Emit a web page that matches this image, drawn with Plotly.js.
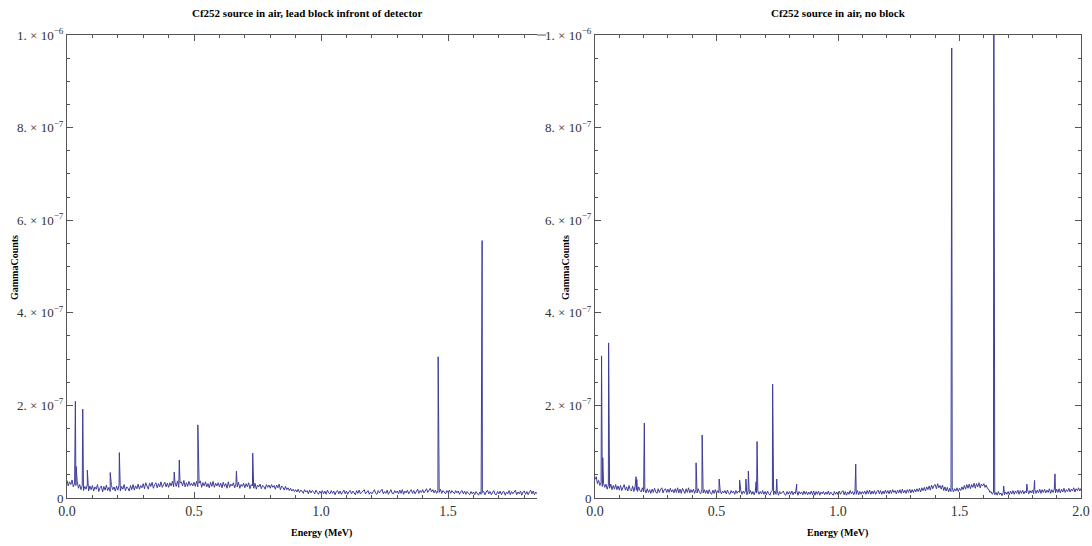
<!DOCTYPE html>
<html>
<head>
<meta charset="utf-8">
<script src="https://cdn.plot.ly/plotly-3.0.1.min.js"></script>
<style>
html,body{margin:0;padding:0;background:#fff;}
#chart{width:1092px;height:546px;}
</style>
</head>
<body>
<div id="chart"></div>
<script>
// ---------- DATA (counts in units of 1e-8) ----------
const channelStep = 0.005; // MeV per baseline sample

// Left: lead block in front of detector, 0 .. 1.85 MeV
const leftBaseline = [
3.8,2.6,3.5,2.9,3.9,2.4,3.2,2.7,3.6,2.1,2.9,1.8,2.7,1.6,2.5,1.9,2.8,1.5,2.6,1.8,
2.7,1.5,2.4,1.9,2.9,1.4,2.2,2.6,1.3,2.5,1.7,2.8,1.6,2.3,1.4,2.7,1.8,2.4,1.5,2.6,
1.7,2.8,1.5,2.5,1.9,2.9,1.6,2.4,2.1,1.5,2.7,1.8,2.9,1.7,2.6,2.0,3.0,1.9,2.7,2.2,
3.1,2.0,3.3,2.4,1.9,3.2,2.5,3.4,2.1,2.9,3.3,2.2,3.1,2.4,3.5,2.3,2.8,3.4,2.4,3.2,
2.3,3.3,2.6,3.6,2.4,3.4,2.5,3.7,2.3,3.2,3.5,2.6,3.8,2.4,3.3,2.5,3.6,2.7,3.2,2.6,
3.4,2.5,3.6,2.4,3.2,3.7,2.3,3.3,2.6,3.5,2.4,3.1,2.2,3.4,2.5,3.6,2.3,3.2,2.6,3.3,
2.4,3.2,2.2,3.4,2.5,3.1,2.1,3.5,2.3,3.0,2.6,3.3,2.2,3.1,2.4,3.4,2.1,2.9,2.5,3.2,
2.2,3.1,2.4,3.3,2.0,2.9,2.6,2.1,3.2,1.9,2.8,2.4,3.0,2.0,2.7,2.5,1.9,2.9,2.3,2.8,
2.1,2.9,2.3,2.7,1.9,2.8,2.2,3.0,1.8,2.6,2.3,1.7,2.5,1.8,2.2,1.6,2.1,1.5,1.9,1.4,
1.8,1.3,1.9,1.2,1.7,1.5,1.0,1.8,1.3,1.6,0.9,1.7,1.1,1.6,1.4,0.9,1.7,1.2,0.8,1.5,
1.0,1.6,0.9,1.5,0.8,1.7,1.1,0.9,1.6,1.0,1.5,0.7,1.4,1.6,0.9,1.5,0.8,1.3,1.7,0.9,
1.5,0.8,1.4,1.6,0.9,1.5,1.1,0.7,1.6,1.0,1.7,0.9,1.2,1.5,1.8,0.9,1.4,1.6,0.8,1.3,
0.9,1.5,1.8,1.0,0.8,1.6,1.1,1.5,1.9,0.9,1.4,1.0,1.7,0.8,1.5,1.8,1.0,0.9,1.6,1.1,
1.5,0.9,1.7,1.0,1.8,0.8,1.5,1.1,1.7,0.9,1.4,1.8,1.0,1.6,0.9,1.5,1.9,1.0,1.6,1.2,
1.8,1.1,1.6,2.0,1.2,1.7,2.1,1.3,1.8,1.1,1.7,1.0,1.6,1.2,1.9,1.0,1.6,1.3,0.9,1.6,
1.2,1.7,1.0,1.6,1.3,0.9,1.6,1.1,1.5,0.8,1.4,1.6,0.9,1.5,0.8,1.4,1.0,0.7,1.4,0.9,
1.3,0.7,1.4,0.9,0.6,1.3,0.8,1.2,1.4,0.7,1.3,1.7,0.9,1.4,0.7,1.3,1.6,0.8,0.7,1.4,
0.9,1.5,0.7,1.3,1.4,0.6,1.3,0.9,1.6,0.7,1.4,0.9,1.3,1.7,0.7,1.3,0.9,1.5,0.6,1.3,
1.5,0.8,1.4,0.7,1.3,1.7,0.9,1.5,0.7,1.3,0.9
];
const leftPeakEnergy = [0.033, 0.036, 0.062, 0.080, 0.170, 0.206, 0.422, 0.442, 0.515, 0.667, 0.731, 1.461, 1.634];
const leftPeakCounts = [20.9, 6.8, 19.2, 6.0, 5.5, 9.8, 5.6, 8.2, 15.8, 5.8, 9.7, 30.5, 55.6];

// Right: no block, 0 .. 2.0 MeV
const rightBaseline = [
4.0,4.6,3.1,3.8,2.7,3.4,2.5,3.2,2.3,3.0,1.9,2.8,2.1,3.0,1.8,2.7,1.9,2.9,1.8,2.6,
1.7,2.7,1.6,2.5,2.9,1.7,2.4,1.5,2.7,1.8,1.5,2.6,1.4,2.5,1.7,1.4,2.4,1.6,1.3,2.2,
1.3,1.9,1.1,2.0,1.2,1.8,1.0,1.9,1.2,2.1,1.3,1.0,2.0,1.2,1.9,2.2,1.1,1.8,2.0,1.2,
1.9,1.2,2.1,1.3,1.8,1.1,2.0,1.2,2.2,1.1,1.9,1.0,2.1,1.3,1.0,2.0,1.2,2.2,1.1,1.8,
1.2,1.9,1.0,1.8,1.1,2.0,1.2,0.9,1.9,1.1,1.8,1.0,1.7,0.9,1.8,1.1,0.8,1.7,1.0,1.8,
1.0,1.6,1.1,1.7,0.9,1.5,1.1,1.6,0.9,1.7,1.0,0.8,1.6,1.1,1.5,0.8,1.6,1.0,1.5,1.2,
1.6,0.8,1.5,1.0,1.7,0.7,1.5,0.9,1.6,0.8,1.4,0.7,1.5,1.1,1.6,0.8,1.4,0.9,1.6,0.8,
1.4,0.7,1.5,0.9,0.6,1.4,1.6,0.7,1.5,0.8,1.5,0.6,1.4,0.9,1.3,1.5,0.8,0.6,1.4,0.8,
1.4,0.8,1.5,0.7,1.3,0.9,1.6,0.6,1.4,0.9,1.3,0.7,1.5,0.8,1.4,0.7,1.3,0.8,1.5,0.7,
1.5,0.6,1.4,0.8,1.5,0.6,1.3,0.9,1.4,0.7,1.3,0.8,1.5,0.7,1.3,0.9,0.6,1.4,0.8,1.3,
0.7,1.5,0.8,1.3,1.6,0.7,1.4,0.6,1.3,0.8,1.6,0.9,1.4,0.7,1.5,0.8,1.6,0.7,1.4,0.8,
1.4,0.9,1.5,0.8,1.6,0.9,1.7,0.8,1.5,0.9,1.6,0.8,1.4,1.7,0.9,1.6,0.8,1.5,0.9,1.7,
1.0,1.6,0.9,1.7,1.0,1.8,1.2,1.6,0.9,1.7,1.1,1.8,1.0,1.9,1.1,1.7,1.0,1.8,1.2,1.9,
1.1,1.8,1.2,1.9,1.3,2.0,1.4,2.1,1.3,2.2,1.6,2.3,1.5,2.4,1.8,2.6,1.7,2.8,2.0,2.7,
2.9,2.0,3.1,2.2,2.7,1.9,2.8,1.6,2.4,1.5,2.3,1.3,2.1,1.4,2.2,1.3,2.0,1.5,2.2,1.4,
2.1,1.6,2.4,1.8,2.7,1.9,2.9,2.1,3.0,2.0,2.9,2.3,3.2,2.1,3.1,2.4,3.3,2.2,3.0,2.6,
3.1,2.3,2.8,2.0,1.9,1.2,1.4,0.8,1.3,0.7,1.2,0.6,1.4,0.7,1.1,0.5,1.2,0.7,1.3,0.8,
1.4,0.7,1.5,0.9,1.6,0.8,1.5,1.0,1.7,0.8,1.6,1.0,1.7,0.9,1.5,1.1,1.8,0.9,1.6,1.1,
1.7,0.9,1.8,1.0,1.7,1.1,1.9,1.0,1.8,1.2,1.9,1.1,1.7,1.2,2.0,1.0,1.8,1.2,1.9,1.1,
1.9,1.2,2.0,1.1,1.9,1.3,2.1,1.2,1.8,1.4,2.1,1.3,1.9,1.5,2.2,1.3,2.0,1.6,2.2,1.5,
2.1
];
const rightPeakEnergy = [0.027, 0.032, 0.056, 0.169, 0.172, 0.203, 0.416, 0.441, 0.511, 0.595, 0.621, 0.631, 0.663, 0.667, 0.731, 0.748, 0.830, 1.073, 1.468, 1.641, 1.682, 1.777, 1.809, 1.893];
const rightPeakCounts = [30.7, 8.7, 33.5, 4.6, 4.0, 16.2, 7.6, 13.6, 4.1, 3.9, 4.1, 5.8, 3.5, 12.2, 24.6, 4.1, 3.0, 7.3, 97.2, 130, 2.6, 3.0, 3.8, 5.2];

const yTickVals = [0, 2e-7, 4e-7, 6e-7, 8e-7, 1e-6];
const yTickText = ['0', '2. \u00d7 10<sup>\u22127</sup>', '4. \u00d7 10<sup>\u22127</sup>', '6. \u00d7 10<sup>\u22127</sup>', '8. \u00d7 10<sup>\u22127</sup>', '1. \u00d7 10<sup>\u22126</sup>'];

const titleLeft = 'Cf252 source in air, lead block infront of detector';
const titleRight = 'Cf252 source in air, no block';
const xTitle = 'Energy (MeV)';
const yTitle = 'GammaCounts';

// ---------- BUILD ----------
function buildSeries(base, step, peakE, peakC) {
  const pts = base.map((v, i) => [i * step, v]);
  peakE.forEach((e, k) => pts.push([e, peakC[k]]));
  pts.sort((a, b) => a[0] - b[0]);
  return { x: pts.map(p => p[0]), y: pts.map(p => p[1] * 1e-8) };
}
const L = buildSeries(leftBaseline, channelStep, leftPeakEnergy, leftPeakCounts);
const R = buildSeries(rightBaseline, channelStep, rightPeakEnergy, rightPeakCounts);

const lineColor = '#3d3d99';
const axisColor = '#555555';
const serif = 'Liberation Serif';
const W = 1092, H = 546;
const px = v => v / W;
const py = v => 1 - v / H;

const traces = [
  { x: L.x, y: L.y, type: 'scatter', mode: 'lines', line: { color: lineColor, width: 1 }, xaxis: 'x', yaxis: 'y', hoverinfo: 'skip' },
  { x: R.x, y: R.y, type: 'scatter', mode: 'lines', line: { color: lineColor, width: 1 }, xaxis: 'x2', yaxis: 'y2', hoverinfo: 'skip' }
];

function xAxis(domain, range, anchor) {
  return {
    domain: domain, range: range, anchor: anchor,
    showline: true, linecolor: axisColor, linewidth: 1, mirror: 'ticks',
    ticks: 'inside', ticklen: 6, tickcolor: axisColor, tickwidth: 1,
    tick0: 0, dtick: 0.5, tickformat: '.1f',
    showgrid: false, zeroline: false,
    tickfont: { family: serif, size: 14, color: '#333333' },
    minor: { tick0: 0, dtick: 0.1, ticks: 'inside', ticklen: 3, tickcolor: axisColor, showgrid: false }
  };
}
function yAxis(domain, anchor, mirror) {
  return {
    domain: domain, range: [0, 1e-6], anchor: anchor,
    showline: true, linecolor: axisColor, linewidth: 1, mirror: mirror,
    ticks: 'inside', ticklen: 6, tickcolor: axisColor, tickwidth: 1,
    tickmode: 'array', tickvals: yTickVals, ticktext: yTickText,
    showgrid: false, zeroline: false,
    tickfont: { family: serif, size: 13, color: '#333333' },
    minor: { tickmode: 'linear', tick0: 0, dtick: 5e-8, ticks: 'inside', ticklen: 3, tickcolor: axisColor, showgrid: false }
  };
}

const yDom = [py(498), py(35)];
const layout = {
  width: W, height: H,
  margin: { l: 0, r: 0, t: 0, b: 0 },
  paper_bgcolor: '#ffffff', plot_bgcolor: '#ffffff',
  showlegend: false,
  font: { family: serif, size: 12, color: '#000000' },
  xaxis: xAxis([px(67), px(537)], [0, 1.85], 'y'),
  yaxis: yAxis(yDom, 'x', false),
  xaxis2: xAxis([px(595), px(1081)], [0, 2.0], 'y2'),
  yaxis2: yAxis(yDom, 'x2', 'ticks'),
  shapes: [
    { type: 'line', xref: 'paper', yref: 'paper', x0: px(537), x1: px(546), y0: py(35), y1: py(35), line: { color: axisColor, width: 1 } }
  ],
  annotations: [
    { text: '<b>' + titleLeft + '</b>', xref: 'paper', yref: 'paper', x: px(307), y: py(13), xanchor: 'center', yanchor: 'middle', showarrow: false, font: { family: serif, size: 11, color: '#000000' } },
    { text: '<b>' + titleRight + '</b>', xref: 'paper', yref: 'paper', x: px(838), y: py(13), xanchor: 'center', yanchor: 'middle', showarrow: false, font: { family: serif, size: 11, color: '#000000' } },
    { text: '<b>' + xTitle + '</b>', xref: 'paper', yref: 'paper', x: px(321), y: py(533), xanchor: 'center', yanchor: 'middle', showarrow: false, font: { family: serif, size: 10, color: '#000000' } },
    { text: '<b>' + xTitle + '</b>', xref: 'paper', yref: 'paper', x: px(837), y: py(533), xanchor: 'center', yanchor: 'middle', showarrow: false, font: { family: serif, size: 10, color: '#000000' } },
    { text: '<b>' + yTitle + '</b>', xref: 'paper', yref: 'paper', x: px(14), y: py(268), xanchor: 'center', yanchor: 'middle', textangle: -90, showarrow: false, font: { family: serif, size: 10, color: '#000000' } },
    { text: '<b>' + yTitle + '</b>', xref: 'paper', yref: 'paper', x: px(565), y: py(268), xanchor: 'center', yanchor: 'middle', textangle: -90, showarrow: false, font: { family: serif, size: 10, color: '#000000' } }
  ]
};

Plotly.newPlot('chart', traces, layout, { displayModeBar: false });
</script>
</body>
</html>
